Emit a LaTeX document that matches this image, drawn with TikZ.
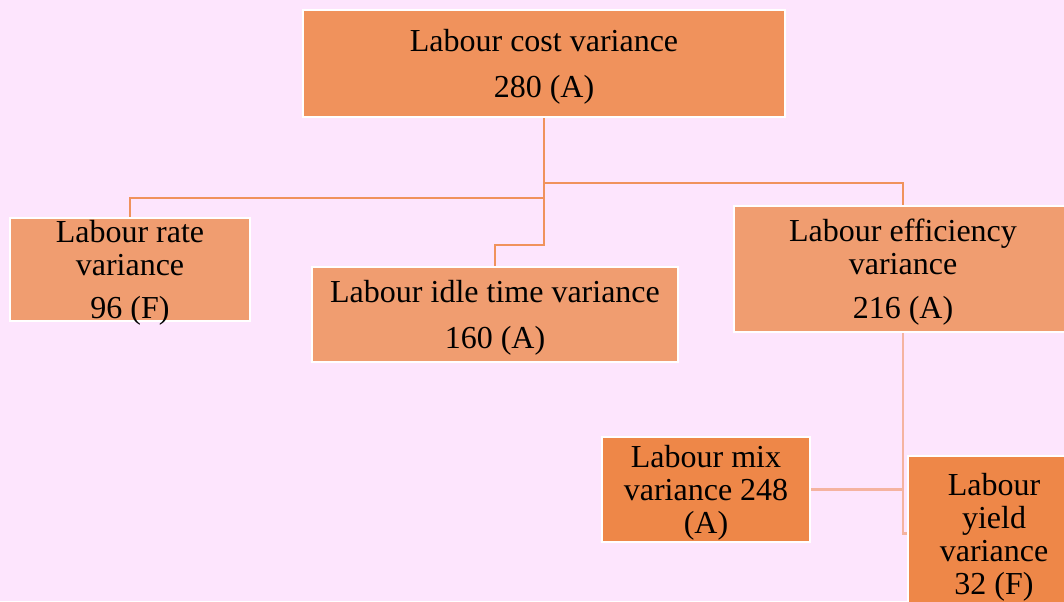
\documentclass[tikz,border=0pt]{standalone}
\usepackage{fontspec}
\setmainfont{Liberation Serif}
\definecolor{bg}{HTML}{FDE5FD}
\definecolor{topc}{HTML}{F0925C}
\definecolor{midc}{HTML}{F09D70}
\definecolor{lowc}{HTML}{EE8748}
\definecolor{linea}{HTML}{F0925C}
\definecolor{lineb}{HTML}{F5B3A0}
\tikzset{
  box/.style={draw=white, line width=1.5pt, rectangle, align=center, inner sep=0pt,
    text depth=0pt, font=\fontsize{24}{24.75}\selectfont},
  conA/.style={draw=linea, line width=2.2pt},
  conB/.style={draw=lineb, line width=2.2pt},
}
\begin{document}
\begin{tikzpicture}[x=0.75pt,y=-0.75pt]
\fill[bg] (0,0) rectangle (1064,601);
\useasboundingbox (0,0) rectangle (1064,601);
\clip (0,0) rectangle (1064,601);
\node[box, fill=topc, minimum width=482*0.75pt, minimum height=107*0.75pt] (t) at (544,63.5)
  {Labour cost variance\\[10pt] 280 (A)};
\node[box, fill=midc, minimum width=240*0.75pt, minimum height=103*0.75pt] (r) at (130,269.5)
  {Labour rate\\ variance\\[8pt] 96 (F)};
\node[box, fill=midc, minimum width=366*0.75pt, minimum height=95*0.75pt] (i) at (495,314.5)
  {Labour idle time variance\\[10pt] 160 (A)};
\node[box, fill=midc, minimum width=338*0.75pt, minimum height=126*0.75pt] (e) at (903,269)
  {Labour efficiency\\ variance\\[8pt] 216 (A)};
\node[box, fill=lowc, minimum width=208*0.75pt, minimum height=105*0.75pt] (m) at (706,489.5)
  {Labour mix\\ variance 248\\ (A)};
\node[box, fill=lowc, minimum width=172*0.75pt, minimum height=155*0.75pt] (y) at (994,533.5)
  {Labour\\ yield\\ variance\\ 32 (F)};
\coordinate (ja) at (544,183);
\coordinate (jb) at (544,198);
\coordinate (jc) at (544,245);
\draw[conA] (t.south) -- (jc) -| (i.north);
\draw[conA] (jb) -| (r.north);
\draw[conA] (ja) -| (e.north);
\draw[conB] (e.south) |- (y.west);
\draw[conB] (m.east) -- (m.east -| e.south);
\end{tikzpicture}
\end{document}
